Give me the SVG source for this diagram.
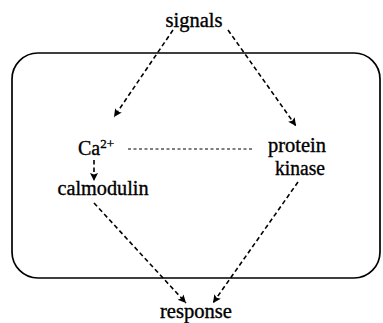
<svg xmlns="http://www.w3.org/2000/svg" width="383" height="323" viewBox="0 0 383 323">
  <defs>
    <marker id="ah" viewBox="0 0 10 10" refX="10" refY="5" markerWidth="10" markerHeight="8" markerUnits="userSpaceOnUse" orient="auto">
      <path d="M0,0 L10,5 L0,10 L2,5 Z" fill="#000"/>
    </marker>
    <style>
      .t { font-family: "Liberation Serif", "Times New Roman", serif; font-size: 20px; fill: #000; stroke: #000; stroke-width: 0.35; text-anchor: middle; }
      .d { stroke: #000; stroke-width: 1.6; stroke-dasharray: 4.5 3; fill: none; }
    </style>
  </defs>
  <rect x="0" y="0" width="383" height="323" fill="#fff"/>
  <rect id="cell" x="12" y="53" width="368" height="225" rx="26" ry="26" fill="none" stroke="#000" stroke-width="1.7"/>
  <g id="connectors">
    <line class="d" x1="173" y1="30" x2="114" y2="117" marker-end="url(#ah)"/>
    <line class="d" x1="228" y1="30" x2="296" y2="126" marker-end="url(#ah)"/>
    <line class="d" x1="94" y1="160" x2="94" y2="181" marker-end="url(#ah)"/>
    <line class="d" x1="94" y1="203" x2="186" y2="303" marker-end="url(#ah)"/>
    <line class="d" x1="298" y1="182" x2="213" y2="303" marker-end="url(#ah)"/>
    <line x1="128" y1="149" x2="252" y2="149" stroke="#000" stroke-width="1.1" stroke-dasharray="3 2.5"/>
  </g>
  <g id="signals"><text class="t" x="194" y="27" textLength="57" lengthAdjust="spacingAndGlyphs">signals</text></g>
  <g id="ca"><text class="t" x="96" y="155">Ca<tspan font-size="13" dy="-7">2+</tspan></text></g>
  <g id="calmodulin"><text class="t" x="103" y="195" textLength="91" lengthAdjust="spacingAndGlyphs">calmodulin</text></g>
  <g id="proteinkinase"><text class="t" x="297" y="152" textLength="58" lengthAdjust="spacingAndGlyphs">protein</text><text class="t" x="300" y="175" textLength="50" lengthAdjust="spacingAndGlyphs">kinase</text></g>
  <g id="response"><text class="t" x="196" y="318" textLength="72" lengthAdjust="spacingAndGlyphs">response</text></g>
</svg>
